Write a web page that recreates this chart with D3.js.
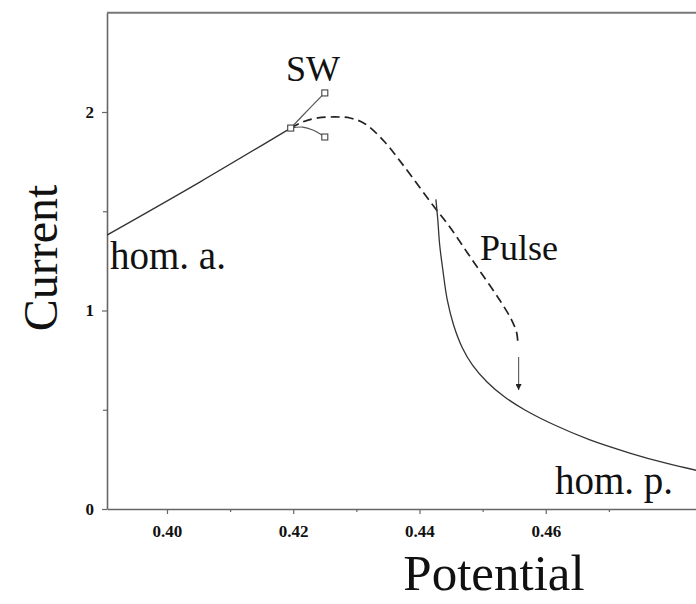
<!DOCTYPE html>
<html>
<head>
<meta charset="utf-8">
<script src="https://cdn.jsdelivr.net/npm/d3@7"></script>
<style>
  html, body { margin: 0; padding: 0; background: #fff; }
  svg { display: block; }
  text { font-family: "Liberation Serif", "Times New Roman", serif; fill: #111; }
</style>
</head>
<body>
<svg id="chart" width="696" height="604"></svg>
<script>
// ---- data (Potential, Current) ----
const homA = [[0.3905, 1.380], [0.4052, 1.647], [0.4196, 1.919]];
const swUpper = [[0.4196, 1.919], [0.4224, 2.012], [0.4250, 2.096]];
const swLower = [[0.4196, 1.919], [0.4215, 1.924], [0.4231, 1.909], [0.4250, 1.874]];
const swMarkers = [[0.4196, 1.919], [0.4250, 2.096], [0.4250, 1.874]];
const pulse = [[0.4196, 1.919], [0.4215, 1.950], [0.4239, 1.970], [0.4266, 1.975], [0.4290, 1.970],
               [0.4314, 1.940], [0.4345, 1.849], [0.4366, 1.766], [0.4390, 1.665], [0.4421, 1.531],
               [0.4448, 1.421], [0.4475, 1.295], [0.4500, 1.179], [0.4527, 1.053], [0.4546, 0.952],
               [0.4554, 0.887], [0.4556, 0.826]];
const arrow = [[0.4557, 0.766], [0.4557, 0.599]];
const homP = [[0.4426, 1.560], [0.4429, 1.456], [0.4432, 1.330], [0.4437, 1.204], [0.4444, 1.053],
              [0.4454, 0.927], [0.4468, 0.811], [0.4484, 0.725], [0.4507, 0.640], [0.4535, 0.564],
              [0.4567, 0.499], [0.4614, 0.423], [0.4670, 0.348], [0.4733, 0.282], [0.4789, 0.232],
              [0.4844, 0.191]];
const xTicks = [0.40, 0.42, 0.44, 0.46];
const xMinor = [0.41, 0.43, 0.45, 0.47];
const yTicks = [0, 1, 2];
const yMinor = [0.5, 1.5];

const svg = d3.select("#chart");
const x = d3.scaleLinear().domain([0.3905, 0.4838]).range([107, 696]);
const y = d3.scaleLinear().domain([0, 2.5]).range([509, 12.75]);

const defs = svg.append("defs");
defs.append("clipPath").attr("id", "clip")
  .append("rect").attr("x", 107).attr("y", 0).attr("width", 600).attr("height", 509);
defs.append("marker").attr("id", "arr").attr("viewBox", "0 0 10 10")
  .attr("refX", 10).attr("refY", 5).attr("markerWidth", 6).attr("markerHeight", 6)
  .attr("markerUnits", "userSpaceOnUse").attr("orient", "auto")
  .append("path").attr("d", "M0,0 L10,5 L0,10 z").attr("fill", "#222");

// top frame line
svg.append("line").attr("x1", x.range()[0]).attr("x2", x.range()[1])
  .attr("y1", y(2.5)).attr("y2", y(2.5)).attr("stroke", "#777").attr("stroke-width", 2);

// axes
const xAxis = d3.axisBottom(x).tickValues(xTicks).tickFormat(d3.format(".2f")).tickSize(5).tickSizeOuter(0);
const gx = svg.append("g").attr("transform", `translate(0,${y(0)})`).call(xAxis);
const xMin = d3.axisBottom(x).tickValues(xMinor).tickFormat("").tickSize(3).tickSizeOuter(0);
const gxm = svg.append("g").attr("transform", `translate(0,${y(0)})`).call(xMin);
gxm.select(".domain").remove();

const yAxis = d3.axisLeft(y).tickValues(yTicks).tickFormat(d3.format("d")).tickSize(5).tickSizeOuter(0);
const gy = svg.append("g").attr("transform", `translate(${x.range()[0]},0)`).call(yAxis);
const yMin = d3.axisLeft(y).tickValues(yMinor).tickFormat("").tickSize(4).tickSizeOuter(0);
const gym = svg.append("g").attr("transform", `translate(${x.range()[0]},0)`).call(yMin);
gym.select(".domain").remove();

svg.selectAll(".domain").attr("stroke", "#666").attr("stroke-width", 1.6);
svg.selectAll(".tick line").attr("stroke", "#666").attr("stroke-width", 1.2);
gx.selectAll("text").attr("font-family", "Liberation Serif, serif").attr("font-weight", "bold")
  .attr("font-size", 17).attr("fill", "#111").attr("dy", "1.15em");
gy.selectAll("text").attr("font-family", "Liberation Serif, serif").attr("font-weight", "bold")
  .attr("font-size", 17).attr("fill", "#111").attr("dx", "-0.3em");

// curves
const line = d3.line().x(d => x(d[0])).y(d => y(d[1])).curve(d3.curveCatmullRom.alpha(0.5));
const plot = svg.append("g").attr("clip-path", "url(#clip)");

plot.append("path").datum(homA).attr("d", line).attr("fill", "none").attr("stroke", "#333").attr("stroke-width", 1.3);
plot.append("path").datum(swUpper).attr("d", line).attr("fill", "none").attr("stroke", "#555").attr("stroke-width", 1.2);
plot.append("path").datum(swLower).attr("d", line).attr("fill", "none").attr("stroke", "#555").attr("stroke-width", 1.2);
plot.append("path").datum(pulse).attr("d", line).attr("fill", "none").attr("stroke", "#222")
  .attr("stroke-width", 1.7).attr("stroke-dasharray", "9,5");
plot.append("path").datum(homP).attr("d", line).attr("fill", "none").attr("stroke", "#333").attr("stroke-width", 1.3);

svg.append("line").attr("x1", x(arrow[0][0])).attr("y1", y(arrow[0][1]))
  .attr("x2", x(arrow[1][0])).attr("y2", y(arrow[1][1]))
  .attr("stroke", "#666").attr("stroke-width", 1.2).attr("marker-end", "url(#arr)");

svg.selectAll("rect.mk").data(swMarkers).join("rect").attr("class", "mk")
  .attr("x", d => x(d[0]) - 3).attr("y", d => y(d[1]) - 3)
  .attr("width", 6).attr("height", 6).attr("fill", "#fff").attr("stroke", "#444").attr("stroke-width", 1.1);

// labels
svg.append("text").attr("x", 286).attr("y", 81).attr("font-size", 36).text("SW");
svg.append("text").attr("x", 480).attr("y", 260).attr("font-size", 36).text("Pulse");
svg.append("text").attr("x", 110).attr("y", 269).attr("font-size", 39).text("hom. a.");
svg.append("text").attr("x", 555).attr("y", 494).attr("font-size", 39).text("hom. p.");

svg.append("text").attr("transform", "translate(57,258) rotate(-90)")
  .attr("text-anchor", "middle").attr("font-size", 48).text("Current");
svg.append("text").attr("x", 494).attr("y", 590).attr("text-anchor", "middle")
  .attr("font-size", 51).text("Potential");
</script>
</body>
</html>
